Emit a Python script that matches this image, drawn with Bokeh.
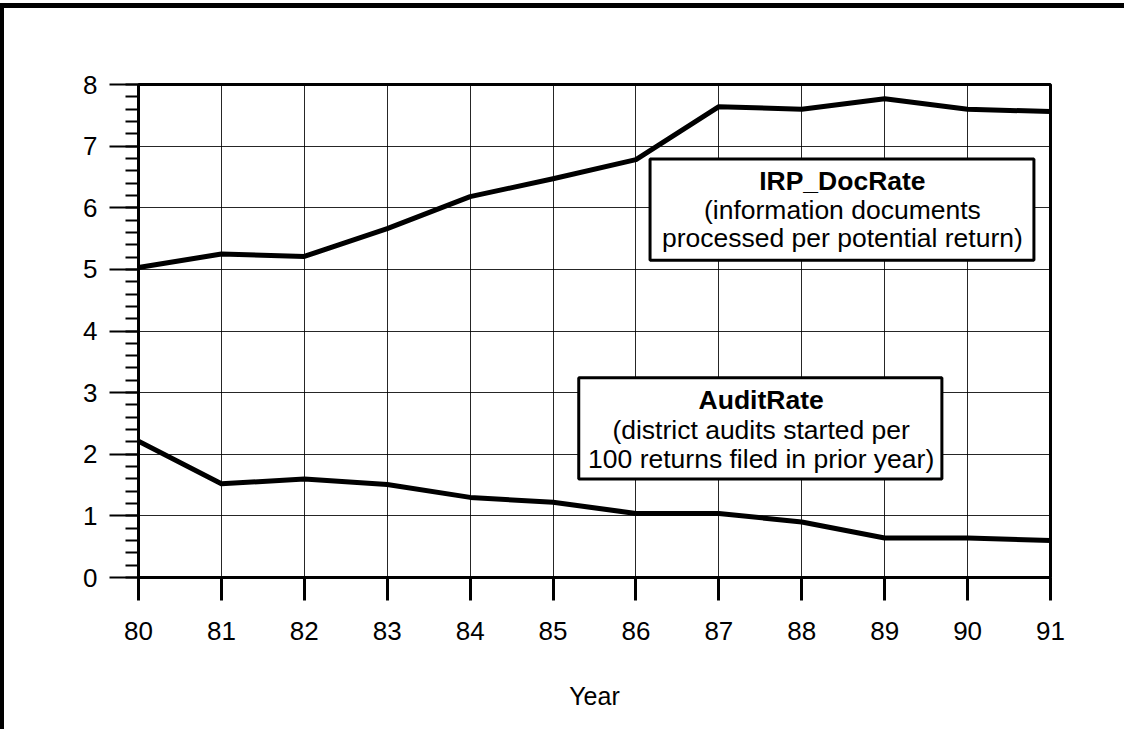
from bokeh.plotting import figure
from bokeh.models import Range1d, FixedTicker
from bokeh.core.properties import value
from bokeh.embed import file_html
from bokeh.resources import INLINE

# ---- data ----
years = [80, 81, 82, 83, 84, 85, 86, 87, 88, 89, 90, 91]
irp_docrate = [5.03, 5.25, 5.21, 5.66, 6.18, 6.47, 6.78, 7.64, 7.60, 7.77, 7.60, 7.56]
audit_rate = [2.21, 1.52, 1.60, 1.51, 1.30, 1.22, 1.04, 1.04, 0.90, 0.64, 0.64, 0.60]
x_ticks = years
y_ticks = [0, 1, 2, 3, 4, 5, 6, 7, 8]
x_title = "Year"
irp_lines = ["IRP_DocRate", "(information documents", "processed per potential return)"]
audit_lines = ["AuditRate", "(district audits started per", "100 returns filed in prior year)"]

FONT = "Liberation Sans"

W, H = 1125, 726
p = figure(width=W, height=H, output_backend="svg", toolbar_location=None,
           x_range=Range1d(80, 91), y_range=Range1d(0, 8),
           min_border_left=134, min_border_top=76, min_border_right=W - 134 - 912,
           min_border_bottom=H - 76 - 493)
p.styles = {"border-left": "5px solid black", "border-top": "5px solid black",
            "margin-top": "3px", "margin-left": "-1px"}
p.background_fill_color = "white"
p.border_fill_color = "white"
p.outline_line_color = "black"
p.outline_line_width = 3

# grid
p.xgrid.ticker = FixedTicker(ticks=x_ticks)
p.ygrid.ticker = FixedTicker(ticks=y_ticks)
for g in (p.xgrid, p.ygrid):
    g.grid_line_color = "black"
    g.grid_line_width = 1
    g.grid_line_alpha = 0.85

# x axis
xa = p.xaxis[0]
xa.ticker = FixedTicker(ticks=x_ticks)
xa.axis_line_width = 3
xa.axis_line_color = "black"
xa.major_tick_out = 23
xa.major_tick_in = 0
xa.major_tick_line_width = 3
xa.major_tick_line_color = "black"
xa.minor_tick_line_color = None
xa.major_label_text_font = FONT
xa.major_label_text_font_size = "26px"
xa.major_label_text_color = "black"
xa.major_label_standoff = 21
xa.axis_label = x_title
xa.axis_label_text_font = FONT
xa.axis_label_text_font_size = "25px"
xa.axis_label_text_font_style = "normal"
xa.axis_label_text_color = "black"
xa.axis_label_standoff = 39

# y axis
ya = p.yaxis[0]
ya.ticker = FixedTicker(ticks=y_ticks, minor_ticks=[i / 5 for i in range(41)])
ya.axis_line_width = 3
ya.axis_line_color = "black"
ya.major_tick_out = 29
ya.major_tick_in = 0
ya.major_tick_line_width = 2
ya.major_tick_line_color = "black"
ya.minor_tick_out = 13
ya.minor_tick_in = 0
ya.minor_tick_line_width = 2
ya.minor_tick_line_color = "black"
ya.major_label_text_font = FONT
ya.major_label_text_font_size = "26px"
ya.major_label_text_color = "black"
ya.major_label_standoff = 12

# series
p.line(years, irp_docrate, line_color="black", line_width=5, line_join="round")
p.line(years, audit_rate, line_color="black", line_width=5, line_join="round")

# text boxes (layout positions in data units)
def text_box(left, right, top, bottom, cx, baselines, lines):
    p.quad(left=[left], right=[right], top=[top], bottom=[bottom],
           fill_color="white", line_color="black", line_width=3)
    for i, (yb, t) in enumerate(zip(baselines, lines)):
        p.text(x=[cx], y=[yb], text=[t], text_align="center", text_baseline="alphabetic",
               text_font=value(FONT), text_font_size="26.5px", text_color="black",
               text_font_style="bold" if i == 0 else "normal")

text_box(86.17, 90.80, 6.79, 5.15, 88.49, [6.44, 5.96, 5.51], irp_lines)
text_box(85.31, 89.69, 3.24, 1.60, 87.51, [2.88, 2.39, 1.93], audit_lines)

open("out.html", "w").write(file_html(p, INLINE))
